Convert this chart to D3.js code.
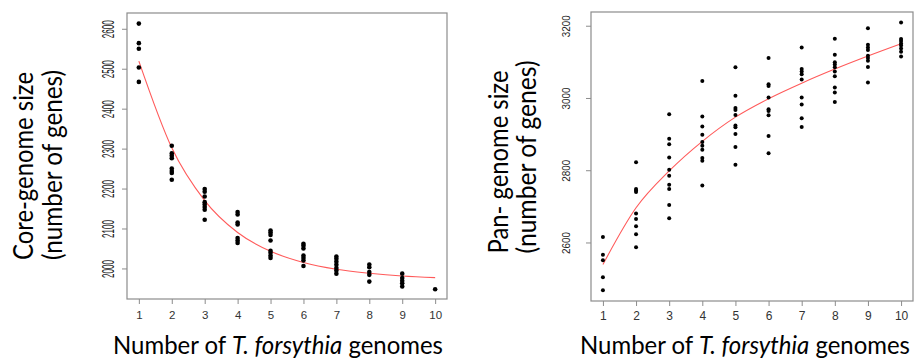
<!DOCTYPE html>
<html>
<head>
<meta charset="utf-8">
<script src="https://cdn.jsdelivr.net/npm/d3@7/dist/d3.min.js"></script>
<style>
  body { margin: 0; background: #fff; }
  svg { display: block; }
</style>
</head>
<body>
<svg id="chart" width="922" height="359"></svg>
<script>
// number of genomes sampled (x categories)
const genomeCounts = [1, 2, 3, 4, 5, 6, 7, 8, 9, 10];

// core-genome sizes per number of genomes
const coreSizes = [
  [2613, 2564, 2550, 2503, 2467],
  [2307, 2288, 2282, 2276, 2250, 2244, 2239, 2222],
  [2199, 2192, 2180, 2166, 2160, 2154, 2147, 2122],
  [2141, 2135, 2115, 2110, 2076, 2070, 2064],
  [2095, 2090, 2084, 2070, 2044, 2039, 2032, 2026],
  [2062, 2057, 2050, 2032, 2026, 2020, 2006],
  [2030, 2024, 2017, 2009, 2001, 1995, 1987],
  [2010, 2003, 1991, 1984, 1967],
  [1987, 1976, 1969, 1963, 1955],
  [1948]
];
// fitted curve read at each x
const coreFit = [2519, 2302, 2170, 2090, 2043, 2015, 1998, 1988, 1981, 1977];

// pan-genome sizes per number of genomes
const panSizes = [
  [2615, 2566, 2551, 2504, 2468],
  [2822, 2748, 2744, 2740, 2680, 2665, 2645, 2623, 2587],
  [2955, 2887, 2872, 2835, 2801, 2785, 2760, 2748, 2704, 2667],
  [3047, 2949, 2921, 2898, 2878, 2868, 2857, 2834, 2826, 2758],
  [3085, 3006, 2972, 2967, 2953, 2924, 2919, 2900, 2864, 2815],
  [3111, 3038, 3033, 3001, 2969, 2964, 2952, 2895, 2847],
  [3140, 3080, 3073, 3066, 3051, 3001, 2982, 2944, 2920],
  [3164, 3120, 3099, 3093, 3085, 3073, 3060, 3029, 3015, 2989],
  [3193, 3147, 3140, 3133, 3117, 3111, 3103, 3086, 3043],
  [3209, 3163, 3158, 3151, 3145, 3137, 3128, 3115]
];
const panFit = [2539, 2696, 2798, 2880, 2947, 2998, 3041, 3080, 3116, 3150];

const coreTicks = [2000, 2100, 2200, 2300, 2400, 2500, 2600];
const panTicks = [2600, 2800, 3000, 3200];

const svg = d3.select("#chart");
const titleFont = "Lato, 'Open Sans', sans-serif";
const tickFont = "'Liberation Sans', Arial, sans-serif";

function drawPanel(p) {
  const x = d3.scaleLinear().domain([0.64, 10.36]).range([p.left, p.right]);
  const y = d3.scaleLinear().domain(p.yDomain).range([p.bottom, p.top]);
  const g = svg.append("g");

  // box
  g.append("rect")
    .attr("x", p.left).attr("y", p.top)
    .attr("width", p.right - p.left).attr("height", p.bottom - p.top)
    .attr("fill", "none").attr("stroke", "#8c8c8c").attr("stroke-width", 1.2);

  // x axis
  const xa = g.append("g")
    .attr("transform", "translate(0," + p.bottom + ")")
    .call(d3.axisBottom(x).tickValues(genomeCounts).tickSize(5).tickFormat(d3.format("d")));
  xa.select(".domain").remove();
  xa.selectAll("line").attr("stroke", "#8c8c8c");
  xa.selectAll("text")
    .attr("y", p.xLabelDy).attr("dy", 0)
    .style("font-family", tickFont).style("font-size", p.xTickSize + "px").attr("fill", "#333");

  // y axis with rotated labels, squeezed along the text direction
  const ya = g.append("g")
    .attr("transform", "translate(" + p.left + ",0)")
    .call(d3.axisLeft(y).tickValues(p.yTicks).tickSize(5).tickFormat(d3.format("d")));
  ya.select(".domain").remove();
  ya.selectAll("line").attr("stroke", "#8c8c8c");
  ya.selectAll("text")
    .attr("x", 0).attr("dy", 0)
    .attr("text-anchor", "middle")
    .style("font-family", tickFont).style("font-size", p.yTickSize + "px").attr("fill", "#222")
    .attr("transform", function() {
      const sx = p.yTickLen / this.getComputedTextLength();
      return "translate(" + p.yLabelDx + ",0) rotate(-90) scale(" + sx + ",1)";
    });

  // fitted curve
  const line = d3.line()
    .x((d, i) => x(genomeCounts[i]))
    .y(d => y(d))
    .curve(d3.curveMonotoneX);
  g.append("path")
    .datum(p.fit)
    .attr("d", line)
    .attr("fill", "none")
    .attr("stroke", "#ff5a5a")
    .attr("stroke-width", 1.1);

  // points
  const pts = [];
  p.sizes.forEach((arr, i) => arr.forEach(v => pts.push({ n: genomeCounts[i], v: v })));
  g.append("g").selectAll("circle")
    .data(pts)
    .enter()
    .append("circle")
    .attr("cx", d => x(d.n))
    .attr("cy", d => y(d.v))
    .attr("r", p.r)
    .attr("fill", "#000");

  // y titles
  p.yTitles.forEach(t => {
    g.append("text")
      .attr("transform", "translate(" + t.x + "," + t.cy + ") rotate(-90)")
      .attr("text-anchor", "middle")
      .attr("textLength", t.len).attr("lengthAdjust", "spacingAndGlyphs")
      .style("font-family", titleFont).style("font-size", "27px")
      .text(t.text);
  });

  // x title with italic species name
  const xt = svg.append("text")
    .attr("x", p.xTitle.cx).attr("y", 354)
    .attr("text-anchor", "middle")
    .attr("textLength", p.xTitle.len).attr("lengthAdjust", "spacingAndGlyphs")
    .style("font-family", titleFont).style("font-size", "25px");
  xt.append("tspan").text("Number of ");
  xt.append("tspan").style("font-style", "italic").text("T. forsythia");
  xt.append("tspan").text(" genomes");
}

drawPanel({
  left: 127, right: 447, top: 13, bottom: 299,
  yDomain: [1923.5, 2639.5], yTicks: coreTicks,
  sizes: coreSizes, fit: coreFit, r: 2.3,
  xTickSize: 11.5, xLabelDy: 20,
  yTickSize: 16, yTickLen: 18, yLabelDx: -13,
  yTitles: [
    { text: "Core-genome size", x: 33, cy: 166, len: 188 },
    { text: "(number of genes)", x: 62, cy: 165, len: 190 }
  ],
  xTitle: { cx: 278, len: 330 }
});

drawPanel({
  left: 591, right: 913, top: 12, bottom: 301,
  yDomain: [2438, 3238], yTicks: panTicks,
  sizes: panSizes, fit: panFit, r: 2,
  xTickSize: 12, xLabelDy: 19,
  yTickSize: 10, yTickLen: 22, yLabelDx: -21,
  yTitles: [
    { text: "Pan- genome size", x: 508, cy: 162, len: 183 },
    { text: "(number of genes)", x: 536, cy: 157, len: 193 }
  ],
  xTitle: { cx: 745, len: 330 }
});
</script>
</body>
</html>
